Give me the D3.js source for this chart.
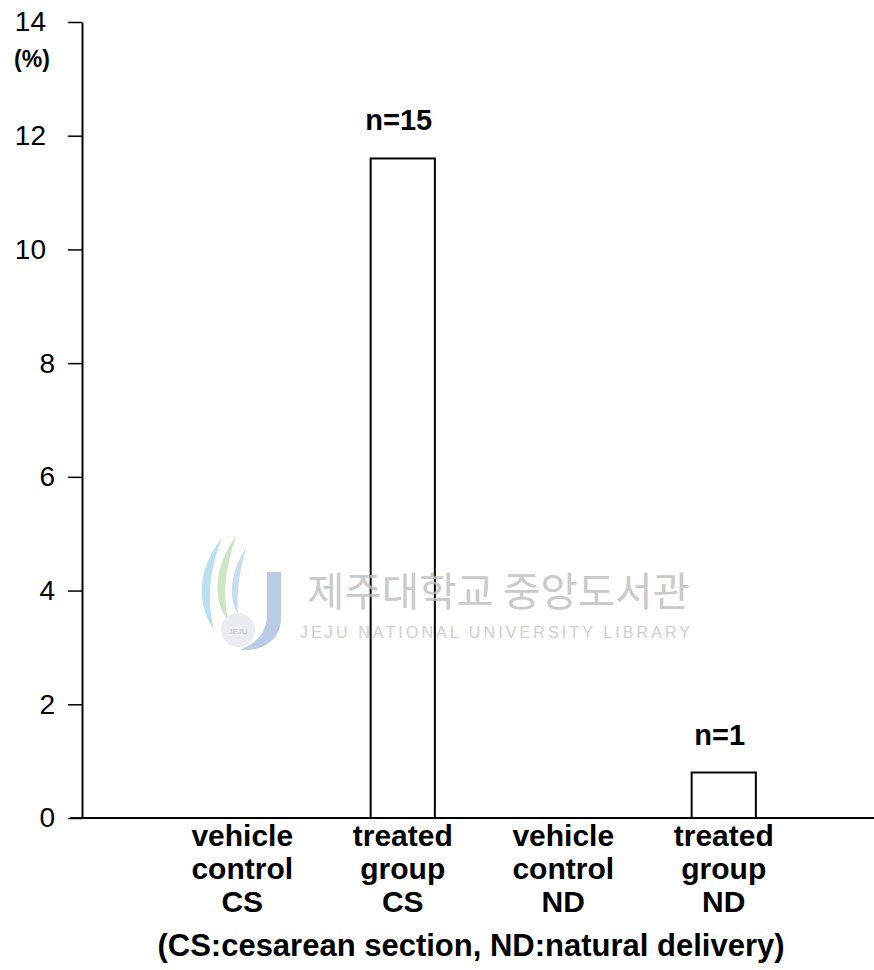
<!DOCTYPE html>
<html>
<head>
<meta charset="utf-8">
<script src="https://cdn.jsdelivr.net/npm/d3@7"></script>
<style>
  body { margin: 0; background: #fff; }
  svg { display: block; }
</style>
</head>
<body>
<svg id="chart"></svg>
<script>
const categories = ["vcCS", "tgCS", "vcND", "tgND"];
const categoryLabels = [
    ["vehicle", "control", "CS"],
    ["treated", "group", "CS"],
    ["vehicle", "control", "ND"],
    ["treated", "group", "ND"]
];
const values = [0, 11.6, 0, 0.8];
const nLabels = ["", "n=15", "", "n=1"];
const yTicks = [0, 2, 4, 6, 8, 10, 12, 14];

const width = 874, height = 970;
const axisX = 82, zeroY = 818, topY = 22;

const svg = d3.select("#chart")
    .attr("width", width)
    .attr("height", height)
    .style("font-family", "'Liberation Sans', Arial, sans-serif");

const x = d3.scaleBand()
    .domain(categories)
    .range([162, 804])
    .paddingInner(0.6)
    .paddingOuter(0.3);

const y = d3.scaleLinear()
    .domain([0, 14])
    .range([zeroY, topY]);

// bars
svg.selectAll(".bar")
    .data(categories.map((c, i) => ({ c, v: values[i] })).filter(d => d.v > 0))
    .join("rect")
    .attr("class", "bar")
    .attr("x", d => x(d.c))
    .attr("y", d => y(d.v))
    .attr("width", x.bandwidth())
    .attr("height", d => y(0) - y(d.v))
    .attr("fill", "none")
    .attr("stroke", "#000")
    .attr("stroke-width", 2);

// library watermark (drawn over the plot, like the scan)
const wm = svg.append("g").attr("opacity", 0.8);
wm.append("path")
    .attr("d", "M222,538 C200,565 194,600 214,630 C206,600 210,568 222,538 Z")
    .attr("fill", "#a8d8ee");
wm.append("path")
    .attr("d", "M236,536 C214,566 212,600 228,620 C222,592 226,566 236,536 Z")
    .attr("fill", "#bfe0b4");
wm.append("path")
    .attr("d", "M246,548 C230,572 228,598 238,614 C236,592 240,570 246,548 Z")
    .attr("fill", "#b6d7ec");
wm.append("path")
    .attr("d", "M267,572 L281,572 L281,618 C281,640 262,652 240,650 C258,642 267,632 267,614 Z")
    .attr("fill", "#a9bfdf");
wm.append("circle").attr("cx", 238).attr("cy", 630).attr("r", 17).attr("fill", "#e4e8ee");
wm.append("text")
    .attr("x", 238).attr("y", 634)
    .attr("text-anchor", "middle")
    .attr("font-size", 8)
    .attr("fill", "#b0b8c4")
    .text("JEJU");
wm.append("text")
    .attr("x", 307).attr("y", 606)
    .attr("textLength", 383)
    .attr("lengthAdjust", "spacingAndGlyphs")
    .attr("font-family", "'Noto Sans CJK KR', sans-serif")
    .attr("font-size", 40)
    .attr("fill", "#bdbdbd")
    .text("제주대학교 중앙도서관");
wm.append("text")
    .attr("x", 300).attr("y", 638)
    .attr("textLength", 390)
    .attr("lengthAdjust", "spacing")
    .attr("font-size", 16)
    .attr("fill", "#c4c4c4")
    .text("JEJU NATIONAL UNIVERSITY  LIBRARY");

// n labels
svg.selectAll(".nlab")
    .data(categories.map((c, i) => ({ c, v: values[i], t: nLabels[i] })).filter(d => d.t))
    .join("text")
    .attr("class", "nlab")
    .attr("x", d => x(d.c) + x.bandwidth() / 2 - 4)
    .attr("y", d => y(d.v) - 28)
    .attr("text-anchor", "middle")
    .attr("font-size", 29)
    .attr("font-weight", "bold")
    .text(d => d.t);

// y axis
const yAxis = svg.append("g")
    .attr("transform", `translate(${axisX},0)`)
    .call(d3.axisLeft(y).tickValues(yTicks).tickSize(14).tickSizeOuter(0).tickPadding(13));
yAxis.select(".domain").attr("stroke-width", 2);
yAxis.selectAll(".tick line").attr("stroke-width", 1.5);
yAxis.selectAll(".tick text")
    .attr("font-size", 28)
    .attr("font-family", "'Liberation Sans', Arial, sans-serif")
    .attr("fill", "#000")
    .attr("dx", d => d >= 10 ? -9 : 0);

svg.append("text")
    .attr("x", 32).attr("y", 67)
    .attr("text-anchor", "middle")
    .attr("font-size", 23)
    .attr("font-weight", "bold")
    .text("(%)");

// x axis
svg.append("line")
    .attr("x1", 70).attr("x2", 874)
    .attr("y1", zeroY).attr("y2", zeroY)
    .attr("stroke", "#000")
    .attr("stroke-width", 2);

// category labels
categories.forEach((c, i) => {
    const t = svg.append("text")
        .attr("x", x(c) + x.bandwidth() / 2)
        .attr("y", 846)
        .attr("text-anchor", "middle")
        .attr("font-size", 30)
        .attr("font-weight", "bold");
    categoryLabels[i].forEach((line, j) => {
        t.append("tspan")
            .attr("x", x(c) + x.bandwidth() / 2)
            .attr("dy", j === 0 ? 0 : 33)
            .text(line);
    });
});

svg.append("text")
    .attr("x", 471).attr("y", 956)
    .attr("text-anchor", "middle")
    .attr("font-size", 31)
    .attr("font-weight", "bold")
    .text("(CS:cesarean section, ND:natural delivery)");
</script>
</body>
</html>
